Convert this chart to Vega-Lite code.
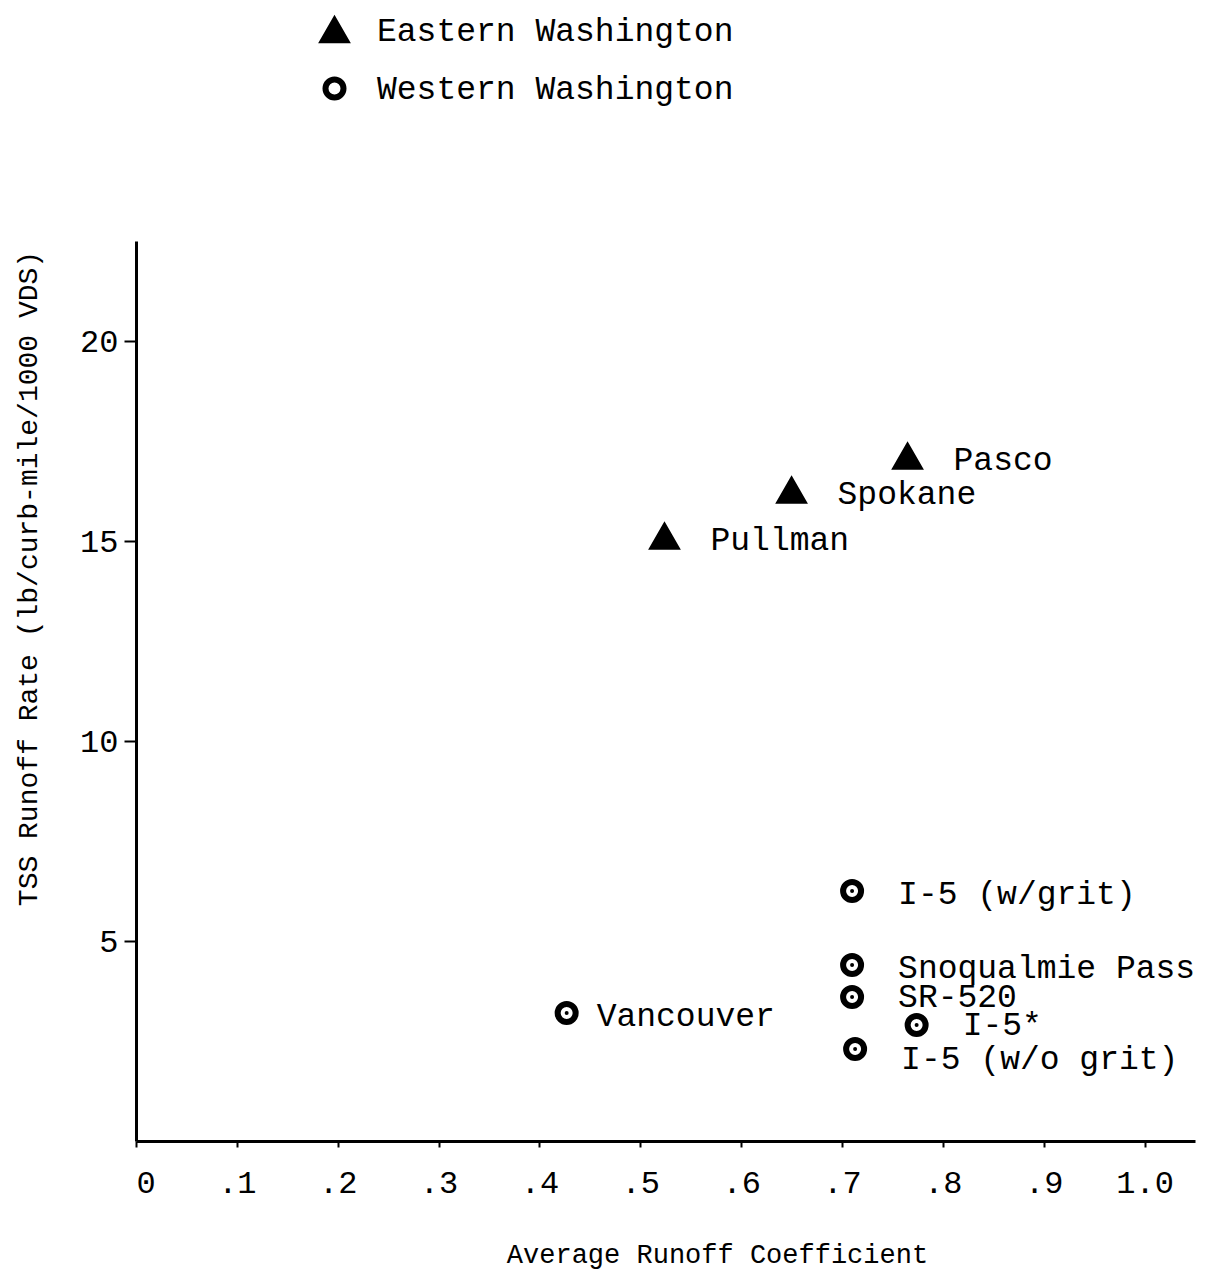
{
  "$schema": "https://vega.github.io/schema/vega-lite/v6.json",
  "width": 1059,
  "height": 900,
  "autosize": "none",
  "padding": {"left": 136, "top": 241, "right": 16, "bottom": 144},
  "background": "white",
  "config": {
    "font": "Liberation Mono",
    "view": {"stroke": null},
    "axis": {"grid": false, "domainColor": "black", "domainWidth": 3, "tickColor": "black", "tickWidth": 2, "labelColor": "black", "titleColor": "black", "labelFont": "Liberation Mono", "titleFont": "Liberation Mono", "titleFontWeight": "normal"},
    "legend": {"labelLimit": 0, "orient": "none", "legendX": 182, "legendY": -227, "labelFontSize": 33, "labelFont": "Liberation Mono", "labelColor": "black", "rowPadding": 14, "labelOffset": 26, "padding": 0},
    "text": {"align": "left", "baseline": "middle", "fontSize": 33, "font": "Liberation Mono", "color": "black"}
  },
  "data": {
    "values": [
      {"site": "Pasco", "region": "Eastern Washington", "coef": 0.765, "rate": 17.1},
      {"site": "Spokane", "region": "Eastern Washington", "coef": 0.65, "rate": 16.25},
      {"site": "Pullman", "region": "Eastern Washington", "coef": 0.524, "rate": 15.1},
      {"site": "I-5 (w/grit)", "region": "Western Washington", "coef": 0.71, "rate": 6.25},
      {"site": "Snoqualmie Pass", "region": "Western Washington", "coef": 0.71, "rate": 4.4},
      {"site": "SR-520", "region": "Western Washington", "coef": 0.71, "rate": 3.6},
      {"site": "I-5*", "region": "Western Washington", "coef": 0.774, "rate": 2.9},
      {"site": "I-5 (w/o grit)", "region": "Western Washington", "coef": 0.713, "rate": 2.3},
      {"site": "Vancouver", "region": "Western Washington", "coef": 0.427, "rate": 3.2}
    ]
  },
  "layer": [
    {
      "mark": {"type": "point", "filled": true, "opacity": 1},
      "encoding": {
        "x": {
          "field": "coef", "type": "quantitative",
          "scale": {"domain": [0, 1.05], "nice": false, "zero": true},
          "axis": {
            "values": [0, 0.1, 0.2, 0.3, 0.4, 0.5, 0.6, 0.7, 0.8, 0.9, 1.0],
            "labelExpr": "datum.value == 0 ? '0' : datum.value == 1 ? '1.0' : '.' + format(datum.value * 10, 'd')",
            "labelFontSize": 32, "tickSize": 6, "labelPadding": 20,
            "title": "Average Runoff Coefficient", "titleFontSize": 27,
            "titleX": 581, "titleY": 100, "titleBaseline": "top"
          }
        },
        "y": {
          "field": "rate", "type": "quantitative",
          "scale": {"domain": [0, 22.5], "nice": false},
          "axis": {
            "values": [5, 10, 15, 20],
            "labelFontSize": 32, "tickSize": 12, "labelPadding": 6,
            "title": "TSS Runoff Rate (lb/curb-mile/1000 VDS)", "titleFontSize": 28,
            "titleX": -108, "titleY": 337, "titleBaseline": "middle", "titleAlign": "center"
          }
        },
        "shape": {
          "field": "region", "type": "nominal", "title": null,
          "scale": {"domain": ["Eastern Washington", "Western Washington"], "range": ["triangle-up", "circle"]}
        },
        "fill": {
          "field": "region", "type": "nominal", "title": null,
          "scale": {"domain": ["Eastern Washington", "Western Washington"], "range": ["black", "white"]}
        },
        "stroke": {
          "field": "region", "type": "nominal", "title": null,
          "scale": {"domain": ["Eastern Washington", "Western Washington"], "range": ["black", "black"]}
        },
        "strokeWidth": {
          "field": "region", "type": "nominal", "title": null,
          "scale": {"domain": ["Eastern Washington", "Western Washington"], "range": [6, 6]}
        },
        "size": {
          "field": "region", "type": "nominal", "title": null,
          "scale": {"domain": ["Eastern Washington", "Western Washington"], "range": [500, 324]}
        }
      }
    },
    {
      "transform": [{"filter": "datum.region == 'Western Washington'"}],
      "mark": {"type": "point", "shape": "circle", "filled": true, "color": "black", "size": 16, "opacity": 1},
      "encoding": {
        "x": {"field": "coef", "type": "quantitative"},
        "y": {"field": "rate", "type": "quantitative"}
      }
    },
    {
      "transform": [{"filter": "indexof(['Vancouver', 'SR-520', 'I-5*', 'I-5 (w/o grit)'], datum.site) < 0"}],
      "mark": {"type": "text", "dx": 46, "dy": 3},
      "encoding": {
        "x": {"field": "coef", "type": "quantitative"},
        "y": {"field": "rate", "type": "quantitative"},
        "text": {"field": "site"}
      }
    },
    {
      "transform": [{"filter": "datum.site == 'SR-520' || datum.site == 'I-5*'"}],
      "mark": {"type": "text", "dx": 46, "dy": 0},
      "encoding": {
        "x": {"field": "coef", "type": "quantitative"},
        "y": {"field": "rate", "type": "quantitative"},
        "text": {"field": "site"}
      }
    },
    {
      "transform": [{"filter": "datum.site == 'I-5 (w/o grit)'"}],
      "mark": {"type": "text", "dx": 46, "dy": 10},
      "encoding": {
        "x": {"field": "coef", "type": "quantitative"},
        "y": {"field": "rate", "type": "quantitative"},
        "text": {"field": "site"}
      }
    },
    {
      "transform": [{"filter": "datum.site == 'Vancouver'"}],
      "mark": {"type": "text", "dx": 30, "dy": 3},
      "encoding": {
        "x": {"field": "coef", "type": "quantitative"},
        "y": {"field": "rate", "type": "quantitative"},
        "text": {"field": "site"}
      }
    }
  ]
}
